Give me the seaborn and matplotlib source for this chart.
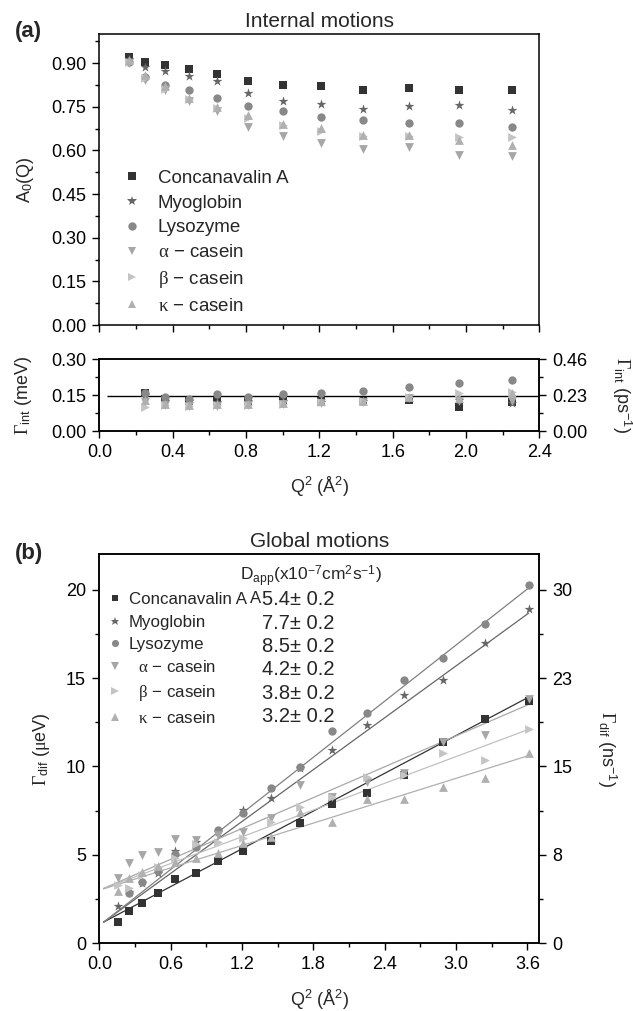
import numpy as np
import pandas as pd
import matplotlib.pyplot as plt
import seaborn as sns
from matplotlib.lines import Line2D
from matplotlib.ticker import MultipleLocator, FixedLocator, FormatStrFormatter

sns.set_style("ticks")
plt.rcParams['font.family'] = ['Liberation Sans', 'DejaVu Sans']
plt.rcParams['mathtext.fontset'] = 'custom'
plt.rcParams['mathtext.rm'] = 'Liberation Serif'
plt.rcParams['mathtext.sf'] = 'Liberation Sans'
plt.rcParams['mathtext.it'] = 'Liberation Serif:italic'
plt.rcParams['axes.edgecolor'] = 'black'
plt.rcParams['axes.linewidth'] = 1.1
plt.rcParams['xtick.color'] = 'black'
plt.rcParams['ytick.color'] = 'black'

# Data
proteins = ["Concanavalin A", "Myoglobin", "Lysozyme", "alpha", "beta", "kappa"]
legend_labels = ["Concanavalin A", "Myoglobin", "Lysozyme",
                 r"$\mathrm{\alpha}$ − casein", r"$\mathrm{\beta}$ − casein",
                 r"$\mathrm{\kappa}$ − casein"]
markers = {"Concanavalin A": "s", "Myoglobin": "*", "Lysozyme": "o",
           "alpha": "v", "beta": ">", "kappa": "^"}
colors = {"Concanavalin A": "#333333", "Myoglobin": "#666666", "Lysozyme": "#888888",
          "alpha": "#a6a6a6", "beta": "#c4c4c4", "kappa": "#b0b0b0"}
line_colors = ["#333333", "#666666", "#808080", "#a8a8a8", "#c0c0c0", "#b0b0b0"]
sizes = {"Concanavalin A": 26, "Myoglobin": 55, "Lysozyme": 36,
         "alpha": 40, "beta": 40, "kappa": 40}

# (a) elastic incoherent structure factor
q2_a = [0.16, 0.25, 0.36, 0.49, 0.64, 0.81, 1.00, 1.21, 1.44, 1.69, 1.96, 2.25]
a0_cona = [0.920, 0.903, 0.892, 0.878, 0.863, 0.838, 0.826, 0.821, 0.806, 0.814, 0.806, 0.807]
a0_myo = [0.913, 0.888, 0.873, 0.856, 0.837, 0.797, 0.771, 0.760, 0.743, 0.754, 0.757, 0.739]
a0_lys = [0.905, 0.852, 0.824, 0.806, 0.781, 0.751, 0.734, 0.714, 0.703, 0.695, 0.695, 0.681]
a0_alpha = [0.900, 0.842, 0.808, 0.768, 0.734, 0.680, 0.648, 0.625, 0.606, 0.613, 0.585, 0.581]
a0_beta = [0.905, 0.850, 0.812, 0.776, 0.745, 0.711, 0.688, 0.665, 0.650, 0.648, 0.645, 0.645]
a0_kappa = [0.910, 0.860, 0.820, 0.780, 0.750, 0.722, 0.691, 0.676, 0.653, 0.653, 0.636, 0.619]

# (a) internal relaxation width
q2_int = [0.25, 0.36, 0.49, 0.64, 0.81, 1.00, 1.21, 1.44, 1.69, 1.96, 2.25]
gi_cona = [0.160, 0.135, 0.128, 0.128, 0.128, 0.130, 0.125, 0.128, 0.132, 0.102, 0.120]
gi_myo = [0.150, 0.128, 0.125, 0.120, 0.125, 0.125, 0.122, 0.125, 0.138, 0.130, 0.118]
gi_lys = [0.160, 0.142, 0.135, 0.155, 0.142, 0.155, 0.158, 0.168, 0.183, 0.202, 0.214]
gi_alpha = [0.120, 0.110, 0.105, 0.105, 0.110, 0.112, 0.118, 0.122, 0.140, 0.125, 0.125]
gi_beta = [0.100, 0.108, 0.105, 0.108, 0.110, 0.112, 0.122, 0.125, 0.145, 0.158, 0.165]
gi_kappa = [0.130, 0.115, 0.110, 0.112, 0.115, 0.118, 0.125, 0.128, 0.145, 0.138, 0.158]
gi_mean = 0.147
gi_mean_start = 0.04

# (b) global diffusion width
q2_b = [0.16, 0.25, 0.36, 0.49, 0.64, 0.81, 1.00, 1.21, 1.44, 1.69,
        1.96, 2.25, 2.56, 2.89, 3.24, 3.61]
q2_b_lys = q2_b[1:]
gd_cona = [1.22, 1.83, 2.26, 2.83, 3.64, 3.96, 4.64, 5.24, 5.79, 6.83,
           7.88, 8.49, 9.49, 11.41, 12.69, 13.73]
gd_myo = [2.13, 2.90, 3.40, 4.00, 5.24, 5.70, 6.30, 7.54, 8.20, 9.90,
          10.94, 12.36, 14.05, 14.90, 17.01, 18.92]
gd_lys = [2.87, 3.45, 4.09, 5.04, 5.47, 6.41, 7.36, 8.81, 9.96,
          12.03, 13.02, 14.90, 16.13, 18.07, 20.24]
gd_alpha = [3.68, 4.56, 5.00, 5.15, 5.88, 5.85, 6.10, 6.32, 7.07, 8.96,
            8.30, 9.15, 9.62, 11.40, 11.79, 13.80]
gd_beta = [3.30, 3.10, 3.87, 4.30, 4.80, 5.60, 5.75, 5.94, 6.88, 7.73,
           8.30, 9.39, 9.50, 10.79, 10.37, 12.13]
gd_kappa = [2.96, 3.68, 4.05, 4.37, 4.60, 4.85, 5.09, 5.66, 6.00, 7.45,
            6.88, 8.15, 8.15, 8.83, 9.34, 10.79]
fit_slope = [3.56, 4.89, 5.29, 2.91, 2.52, 2.11]
fit_intercept = [1.07, 1.02, 1.00, 3.00, 3.00, 3.00]
fit_start = 0.035
d_app = [5.4, 7.7, 8.5, 4.2, 3.8, 3.2]
d_err = [0.2, 0.2, 0.2, 0.2, 0.2, 0.2]

hbar_conv = 1.519  # meV -> ps^-1, ueV -> ns^-1


def long_frame(qs, series):
    return pd.concat([pd.DataFrame({"q2": q, "val": v, "protein": p})
                      for p, q, v in zip(proteins, qs, series)], ignore_index=True)


df_a0 = long_frame([q2_a] * 6, [a0_cona, a0_myo, a0_lys, a0_alpha, a0_beta, a0_kappa])
df_gi = long_frame([q2_int] * 6, [gi_cona, gi_myo, gi_lys, gi_alpha, gi_beta, gi_kappa])
df_gd = long_frame([q2_b, q2_b, q2_b_lys, q2_b, q2_b, q2_b],
                   [gd_cona, gd_myo, gd_lys, gd_alpha, gd_beta, gd_kappa])

fig = plt.figure(figsize=(6.33, 10.11), dpi=100)
ax1 = fig.add_axes([0.1569, 0.6785, 0.6951, 0.2879])
ax2 = fig.add_axes([0.1569, 0.5734, 0.6951, 0.0712])
ax3 = fig.add_axes([0.1569, 0.0670, 0.6951, 0.3847])

fs = 13


def scatter(ax, df):
    for p in proteins:
        sub = df[df.protein == p]
        sns.scatterplot(data=sub, x="q2", y="val", ax=ax, marker=markers[p],
                        color=colors[p], s=sizes[p], linewidth=0, legend=False,
                        zorder=3)


def handles(ms_scale=1.0):
    return [Line2D([], [], ls="none", marker=markers[p], color=colors[p],
                   markersize=np.sqrt(sizes[p]) * ms_scale, markeredgewidth=0)
            for p in proteins]


def style(ax):
    for s in ax.spines.values():
        s.set_visible(True)
        s.set_linewidth(1.1)
    ax.tick_params(which="both", direction="out", labelsize=fs, top=False, pad=4.5)
    ax.tick_params(which="major", length=5, width=1)
    ax.tick_params(which="minor", length=3, width=1)
    ax.set_xlabel("")
    ax.set_ylabel("")


def style_right(ax):
    ax.tick_params(which="both", direction="out", labelsize=fs, pad=4.5)
    ax.tick_params(which="major", length=5, width=1)
    ax.tick_params(which="minor", length=3, width=1)


# ---- (a) top ----
scatter(ax1, df_a0)
style(ax1)
ax1.set_xlim(0, 2.4)
ax1.set_ylim(0, 1.0)
ax1.xaxis.set_major_locator(MultipleLocator(0.4))
ax1.xaxis.set_minor_locator(MultipleLocator(0.2))
ax1.tick_params(axis="x", labelbottom=False)
ax1.tick_params(axis="y", right=False)
ax1.yaxis.set_major_locator(FixedLocator(np.arange(0, 0.91, 0.15)))
ax1.yaxis.set_minor_locator(MultipleLocator(0.075))
ax1.yaxis.set_major_formatter(FormatStrFormatter("%.2f"))
ax1.set_ylabel(r"A$_{\mathsf{0}}$(Q)", fontsize=fs, labelpad=11)
ax1.set_title("Internal motions", fontsize=15, pad=5)
ax1.legend(handles(), legend_labels, loc="upper left", bbox_to_anchor=(0.052, 0.534),
           frameon=False, fontsize=13.5, handlelength=1.0, handletextpad=0.9,
           labelspacing=0.41, borderpad=0, borderaxespad=0)

# ---- (a) bottom ----
scatter(ax2, df_gi)
ax2.hlines(gi_mean, gi_mean_start, 2.4, color="black", lw=1.0, zorder=2)
style(ax2)
ax2.set_xlim(0, 2.4)
ax2.set_ylim(0, 0.30)
ax2.xaxis.set_major_locator(MultipleLocator(0.4))
ax2.xaxis.set_minor_locator(MultipleLocator(0.2))
ax2.xaxis.set_major_formatter(FormatStrFormatter("%.1f"))
ax2.yaxis.set_major_locator(FixedLocator([0, 0.15, 0.30]))
ax2.yaxis.set_minor_locator(FixedLocator([0.075, 0.225]))
ax2.yaxis.set_major_formatter(FormatStrFormatter("%.2f"))
ax2.set_ylabel(r"$\Gamma_{\mathsf{int}}$ (meV)", fontsize=fs, labelpad=12)
ax2.set_xlabel(r"Q$^{\mathsf{2}}$ (Å$^{\mathsf{2}}$)", fontsize=fs, labelpad=9)
ax2r = ax2.twinx()
ax2r.set_ylim(0, 0.30 * hbar_conv)
ax2r.yaxis.set_major_locator(FixedLocator([0, 0.15 * hbar_conv, 0.30 * hbar_conv]))
ax2r.yaxis.set_minor_locator(FixedLocator([0.075 * hbar_conv, 0.225 * hbar_conv]))
ax2r.yaxis.set_major_formatter(FormatStrFormatter("%.2f"))
style_right(ax2r)
ax2r.set_ylabel(r"$\Gamma_{\mathsf{int}}$ (ps$^{\mathsf{-1}}$)", fontsize=fs,
                rotation=270, labelpad=33)

# ---- (b) ----
for i, p in enumerate(proteins):
    xs = np.array([fit_start, q2_b[-1]])
    ax3.plot(xs, fit_slope[i] * xs + fit_intercept[i], color=line_colors[i],
             lw=0.9, zorder=2)
scatter(ax3, df_gd)
style(ax3)
ax3.set_xlim(0, 3.7)
ax3.set_ylim(0, 22)
ax3.xaxis.set_major_locator(FixedLocator(np.arange(0, 3.61, 0.6)))
ax3.xaxis.set_minor_locator(MultipleLocator(0.3))
ax3.xaxis.set_major_formatter(FormatStrFormatter("%.1f"))
ax3.yaxis.set_major_locator(MultipleLocator(5))
ax3.yaxis.set_minor_locator(MultipleLocator(2.5))
ax3.set_ylabel(r"$\Gamma_{\mathsf{dif}}$ ($\mathrm{\mu}$eV)", fontsize=fs, labelpad=10)
ax3.set_xlabel(r"Q$^{\mathsf{2}}$ (Å$^{\mathsf{2}}$)", fontsize=fs, labelpad=10)
ax3.set_title("Global motions", fontsize=15, pad=5)
ax3r = ax3.twinx()
ax3r.set_ylim(0, 22 * hbar_conv)
ax3r.yaxis.set_major_locator(FixedLocator(np.arange(0, 21, 5) * hbar_conv))
ax3r.yaxis.set_minor_locator(FixedLocator(np.arange(2.5, 21, 5) * hbar_conv))
ax3r.yaxis.set_major_formatter(FormatStrFormatter("%.0f"))
style_right(ax3r)
ax3r.set_ylabel(r"$\Gamma_{\mathsf{dif}}$ (ns$^{\mathsf{-1}}$)", fontsize=fs,
                rotation=270, labelpad=33)

b_labels = [legend_labels[0], legend_labels[1], legend_labels[2]] + \
           ["  " + l for l in legend_labels[3:]]
ax3.legend(handles(0.85), b_labels, loc="upper left", bbox_to_anchor=(0.02, 0.903),
           frameon=False, fontsize=12.2, handlelength=0.85, handletextpad=0.36,
           labelspacing=0.44, borderpad=0, borderaxespad=0)
ax3.text(1.18, 20.75, r"D$_{\mathsf{app}}$(x10$^{\mathsf{-7}}$cm$^{\mathsf{2}}$s$^{\mathsf{-1}}$)",
         fontsize=12.5, va="center", ha="left")
ax3.text(1.265, 19.5, "A", fontsize=12, va="center", ha="left")
for i, (d, e) in enumerate(zip(d_app, d_err)):
    ax3.text(1.37, 19.43 - i * 1.32, f"{d}± {e}", fontsize=14.5, va="center", ha="left")

fig.text(0.024, 1 - 32 / 1011, "(a)", fontsize=16, fontweight="bold", va="center")
fig.text(0.024, 1 - 554 / 1011, "(b)", fontsize=16, fontweight="bold", va="center")

fig.savefig("out.png", dpi=100)
